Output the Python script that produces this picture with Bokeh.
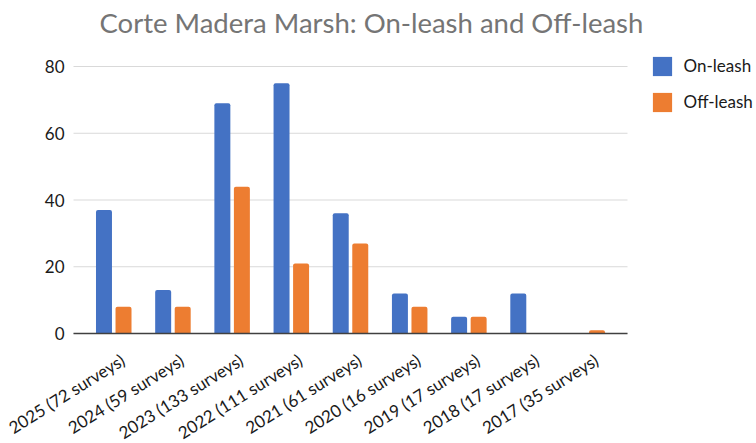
import numpy as np
from bokeh.plotting import figure
from bokeh.models import (Legend, LegendItem, Label, ColumnDataSource, Range1d)
from bokeh.core.properties import value
from bokeh.embed import file_html
from bokeh.resources import INLINE

categories = ["2025 (72 surveys)", "2024 (59 surveys)", "2023 (133 surveys)",
              "2022 (111 surveys)", "2021 (61 surveys)", "2020 (16 surveys)",
              "2019 (17 surveys)", "2018 (17 surveys)", "2017 (35 surveys)"]
on_leash = [37, 13, 69, 75, 36, 12, 5, 12, 0]
off_leash = [8, 8, 44, 21, 27, 8, 5, 0, 1]
y_ticks = [0, 20, 40, 60, 80]
title_text = "Corte Madera Marsh: On-leash and Off-leash"

BLUE = "#4472C4"
ORANGE = "#ED7D31"
FONT = "Lato"
TEXT = "#1a1a1a"

# layout (pixels)
W, H = 756, 443
LEFT, RIGHT_END = 73, 627          # horizontal span of the category axis
TOP_GRID, BASE = 66, 333           # y of the 80 gridline and of the baseline

n = len(categories)
idx = np.arange(n)
pad = 0.18
x_lo, x_hi = -0.5 - pad, n - 0.5 + pad
ppx = (RIGHT_END - LEFT) / (x_hi - x_lo)
x_start = x_lo - LEFT / ppx
x_end = x_lo + (W - LEFT) / ppx
ppy = (BASE - TOP_GRID) / 80.0
y_start = -(H - BASE) / ppy
y_end = 80 + TOP_GRID / ppy
DODGE, BAR_W = 0.165, 0.27

src = ColumnDataSource(dict(x_on=idx - DODGE, x_off=idx + DODGE, on=on_leash, off=off_leash))
xlab = ColumnDataSource(dict(x=idx + 3.5 / ppx, y=[-16 / ppy] * n, text=categories))
ylab = ColumnDataSource(dict(x=[x_lo - 9 / ppx] * len(y_ticks), y=y_ticks,
                             text=[str(t) for t in y_ticks]))

# the frame fills the whole canvas; axes are drawn as glyphs
p = figure(x_range=Range1d(x_start, x_end), y_range=Range1d(y_start, y_end),
           width=W, height=H, output_backend="svg", toolbar_location=None,
           min_border=0)
p.title = None
p.outline_line_color = None
p.grid.visible = False
p.axis.visible = False

# horizontal gridlines over the category span
p.segment(x0=[x_lo] * len(y_ticks), x1=[x_hi] * len(y_ticks), y0=y_ticks, y1=y_ticks,
          line_color="#d9d9d9", line_width=1)

r_on = p.vbar(x="x_on", top="on", width=BAR_W, source=src,
              fill_color=BLUE, line_color=None, border_radius=(2, 2, 0, 0))
r_off = p.vbar(x="x_off", top="off", width=BAR_W, source=src,
               fill_color=ORANGE, line_color=None, border_radius=(2, 2, 0, 0))

# baseline (category axis line)
p.segment(x0=[x_lo], x1=[x_hi], y0=[0], y1=[0], line_color="#404040", line_width=1.5)

# rotated category labels
p.text(x="x", y="y", text="text", source=xlab, angle=0.56, text_align="right",
       text_baseline="top", text_font=value(FONT), text_font_size="17px", text_color=TEXT)

# value axis labels
p.text(x="x", y="y", text="text", source=ylab, text_align="right", text_baseline="middle",
       text_font=value(FONT), text_font_size="17px", text_color=TEXT)

# title
p.add_layout(Label(x=x_lo + (99 - LEFT) / ppx, y=80 + (TOP_GRID - 21.5) / ppy,
                   text=title_text, text_font=FONT, text_font_size="27.5px",
                   text_color="#757575", text_align="left", text_baseline="alphabetic"))

legend = Legend(items=[LegendItem(label="On-leash", renderers=[r_on]),
                       LegendItem(label="Off-leash", renderers=[r_off])],
                location=(649.6, H - 113.6), padding=0, margin=0, spacing=12,
                glyph_width=24, glyph_height=24, label_height=24, label_standoff=10,
                label_text_font=FONT, label_text_font_size="17px", label_text_color=TEXT,
                border_line_color=None, background_fill_alpha=0)
p.add_layout(legend, "center")

open("out.html", "w").write(file_html(p, INLINE))
